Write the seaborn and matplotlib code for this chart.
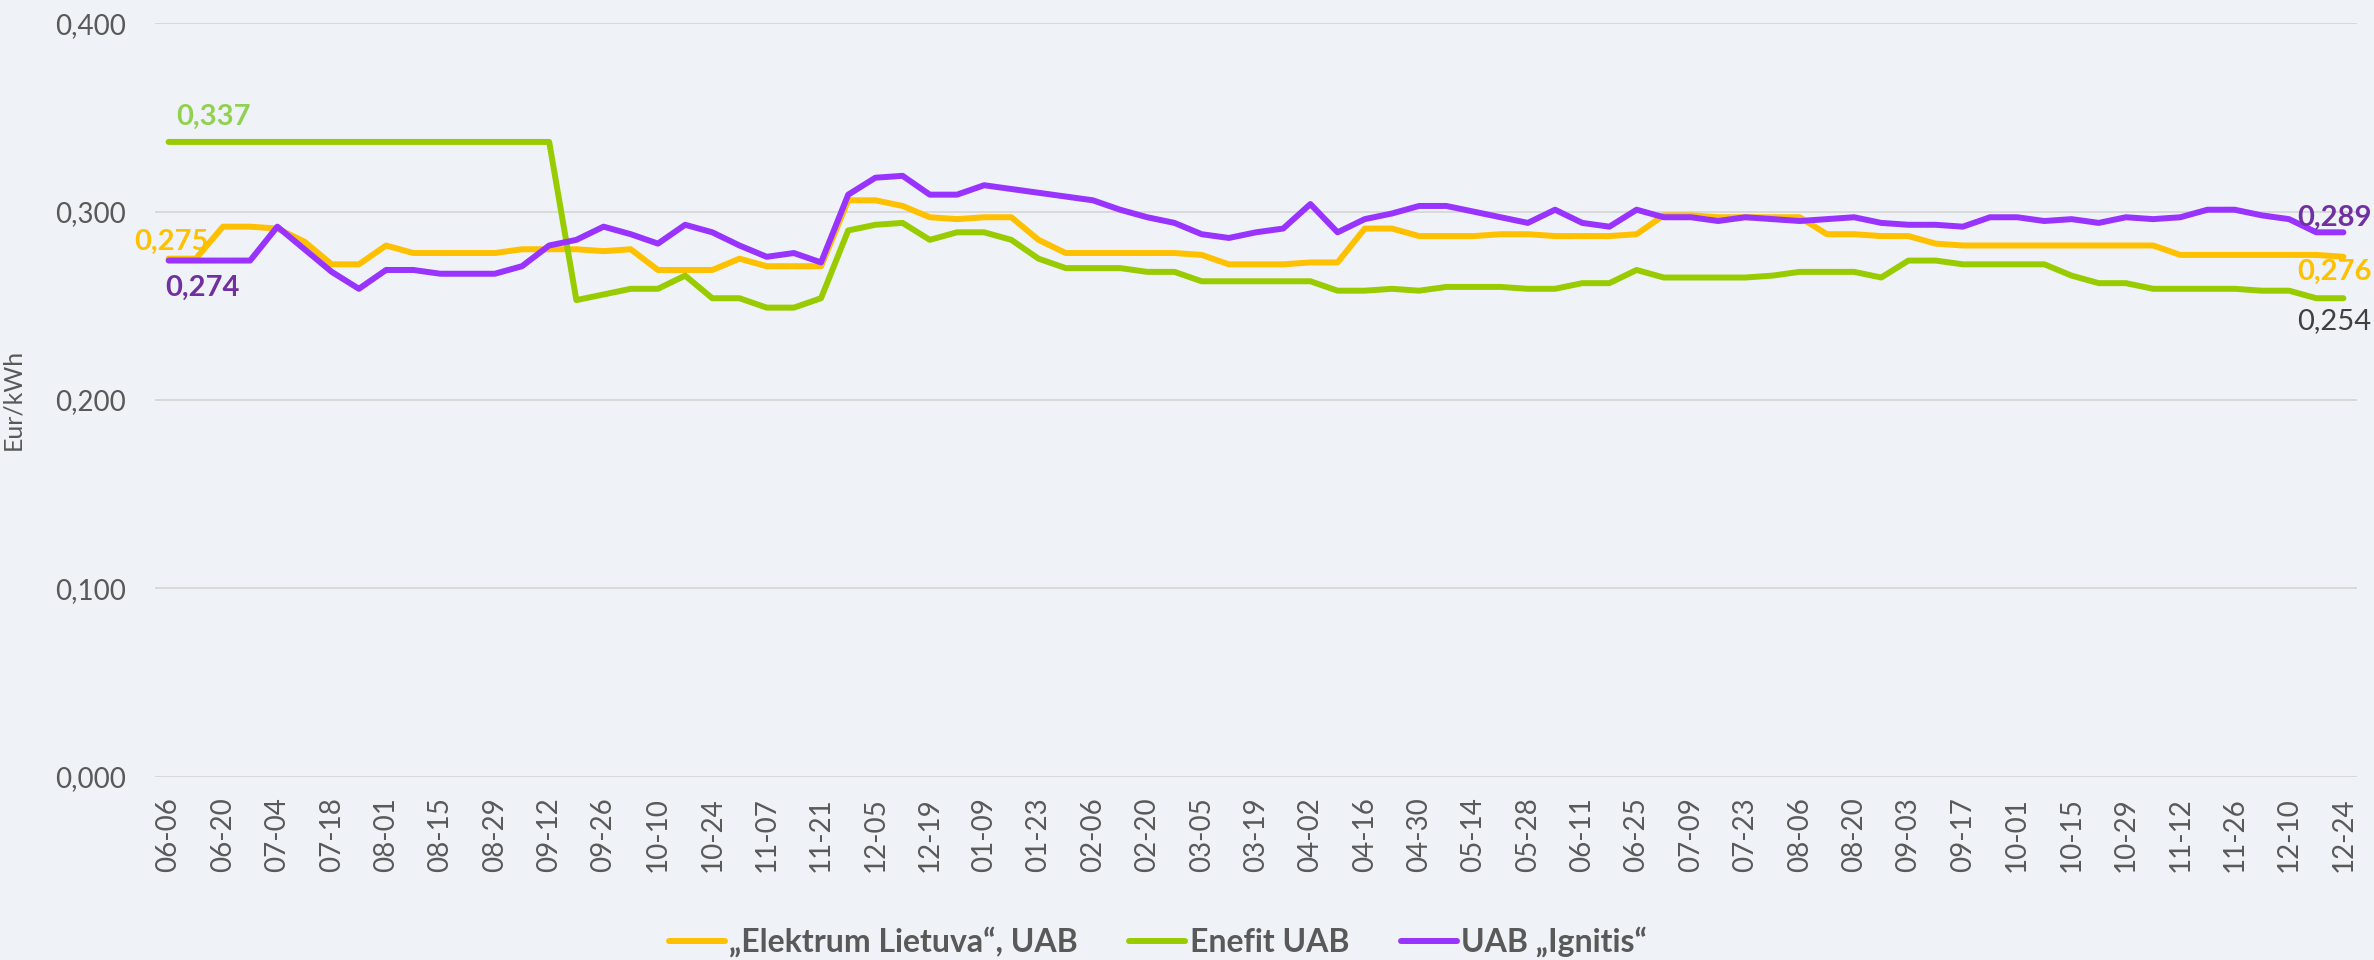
import numpy as np
import pandas as pd
import matplotlib
matplotlib.use("Agg")
import matplotlib.pyplot as plt
import seaborn as sns

# ---- data (weekly prices, Eur/kWh) ----
tick_labels = ["06-06", "06-20", "07-04", "07-18", "08-01", "08-15", "08-29", "09-12",
               "09-26", "10-10", "10-24", "11-07", "11-21", "12-05", "12-19", "01-09",
               "01-23", "02-06", "02-20", "03-05", "03-19", "04-02", "04-16", "04-30",
               "05-14", "05-28", "06-11", "06-25", "07-09", "07-23", "08-06", "08-20",
               "09-03", "09-17", "10-01", "10-15", "10-29", "11-12", "11-26", "12-10",
               "12-24"]

series_names = ["\u201eElektrum Lietuva\u201c, UAB", "Enefit UAB", "UAB \u201eIgnitis\u201c"]

elektrum = [0.275, 0.275, 0.292, 0.292, 0.291, 0.284, 0.272, 0.272, 0.282, 0.278,
            0.278, 0.278, 0.278, 0.280, 0.280, 0.280, 0.279, 0.280, 0.269, 0.269,
            0.269, 0.275, 0.271, 0.271, 0.271, 0.306, 0.306, 0.303, 0.297, 0.296,
            0.297, 0.297, 0.285, 0.278, 0.278, 0.278, 0.278, 0.278, 0.277, 0.272,
            0.272, 0.272, 0.273, 0.273, 0.291, 0.291, 0.287, 0.287, 0.287, 0.288,
            0.288, 0.287, 0.287, 0.287, 0.288, 0.298, 0.298, 0.297, 0.297, 0.297,
            0.297, 0.288, 0.288, 0.287, 0.287, 0.283, 0.282, 0.282, 0.282, 0.282,
            0.282, 0.282, 0.282, 0.282, 0.277, 0.277, 0.277, 0.277, 0.277, 0.277,
            0.276]

enefit = [0.337, 0.337, 0.337, 0.337, 0.337, 0.337, 0.337, 0.337, 0.337, 0.337,
          0.337, 0.337, 0.337, 0.337, 0.337, 0.253, 0.256, 0.259, 0.259, 0.266,
          0.254, 0.254, 0.249, 0.249, 0.254, 0.290, 0.293, 0.294, 0.285, 0.289,
          0.289, 0.285, 0.275, 0.270, 0.270, 0.270, 0.268, 0.268, 0.263, 0.263,
          0.263, 0.263, 0.263, 0.258, 0.258, 0.259, 0.258, 0.260, 0.260, 0.260,
          0.259, 0.259, 0.262, 0.262, 0.269, 0.265, 0.265, 0.265, 0.265, 0.266,
          0.268, 0.268, 0.268, 0.265, 0.274, 0.274, 0.272, 0.272, 0.272, 0.272,
          0.266, 0.262, 0.262, 0.259, 0.259, 0.259, 0.259, 0.258, 0.258, 0.254,
          0.254]

ignitis = [0.274, 0.274, 0.274, 0.274, 0.292, 0.280, 0.268, 0.259, 0.269, 0.269,
           0.267, 0.267, 0.267, 0.271, 0.282, 0.285, 0.292, 0.288, 0.283, 0.293,
           0.289, 0.282, 0.276, 0.278, 0.273, 0.309, 0.318, 0.319, 0.309, 0.309,
           0.314, 0.312, 0.310, 0.308, 0.306, 0.301, 0.297, 0.294, 0.288, 0.286,
           0.289, 0.291, 0.304, 0.289, 0.296, 0.299, 0.303, 0.303, 0.300, 0.297,
           0.294, 0.301, 0.294, 0.292, 0.301, 0.297, 0.297, 0.295, 0.297, 0.296,
           0.295, 0.296, 0.297, 0.294, 0.293, 0.293, 0.292, 0.297, 0.297, 0.295,
           0.296, 0.294, 0.297, 0.296, 0.297, 0.301, 0.301, 0.298, 0.296, 0.289,
           0.289]

line_colors = ["#FFC000", "#99CC00", "#9933FF"]

# ---- style ----
BG = "#EFF3F7"
TXT = "#595959"
sns.set_theme(style="whitegrid", rc={
    "figure.facecolor": BG, "axes.facecolor": BG, "savefig.facecolor": BG,
    "grid.color": "#D9D9D9", "grid.linewidth": 1.4,
})
plt.rcParams['font.family'] = ['Lato', 'DejaVu Sans']

fig = plt.figure(figsize=(23.74, 9.6), dpi=100)
ax = fig.add_axes([155 / 2374, 1 - 776.5 / 960, (2357 - 155) / 2374, (776.5 - 23.3) / 960])

x = np.arange(len(elektrum))
for name, vals, col in zip(series_names, [elektrum, enefit, ignitis], line_colors):
    df = pd.DataFrame({"x": x, "v": vals})
    sns.lineplot(data=df, x="x", y="v", ax=ax, color=col, linewidth=4.3, label=name,
                 solid_capstyle="round", solid_joinstyle="round")

ax.set_xlim(-0.5, len(x) - 0.5)
ax.set_ylim(0, 0.4)
ax.set_yticks([0, 0.1, 0.2, 0.3, 0.4])
ax.set_yticklabels([f"{v:.3f}".replace(".", ",") for v in [0, 0.1, 0.2, 0.3, 0.4]])
ax.set_xticks(x[::2])
ax.set_xticklabels(tick_labels, rotation=90)
ax.grid(axis="x", visible=False)
for s in ax.spines.values():
    s.set_visible(False)
ax.tick_params(axis="y", length=0, pad=21, labelsize=20, labelcolor=TXT)
ax.tick_params(axis="x", length=0, pad=15, labelsize=20, labelcolor=TXT)
ax.set_xlabel("")
ax.set_ylabel("Eur/kWh", fontsize=18, color=TXT, labelpad=0)
ax.yaxis.set_label_coords(-155 / 2202 + 24 / 2202, 0.5)

# ---- data labels ----
def lab(i, vals, txt, dx, dy, color, ha="center", weight="bold"):
    ax.annotate(txt, (x[i], vals[i]), xytext=(dx, dy), textcoords="offset pixels",
                ha=ha, va="center", fontsize=21, fontweight=weight, color=color)

lab(0, enefit, "0,337", 8, 25, "#92D050", ha="left")
lab(0, elektrum, "0,275", 3, 17, "#FFC000")
lab(0, ignitis, "0,274", -3, -27, "#7030A0", ha="left")
last = len(x) - 1
lab(last, ignitis, "0,289", -9, 14, "#7030A0")
lab(last, elektrum, "0,276", -9, -15, "#FFC000")
lab(last, enefit, "0,254", -9, -23, "#404040", weight="normal")

# ---- legend ----
ax.get_legend().remove()
handles, labels = ax.get_legend_handles_labels()
fig.legend(handles, labels, loc="center", bbox_to_anchor=(1158 / 2374, 1 - 942 / 960),
           ncol=3, frameon=False, fontsize=23, handlelength=1.75, handletextpad=0.15,
           columnspacing=1.6, prop={"weight": "bold", "size": 23},
           labelcolor=TXT)

fig.savefig("out.png", dpi=100, facecolor=BG)
